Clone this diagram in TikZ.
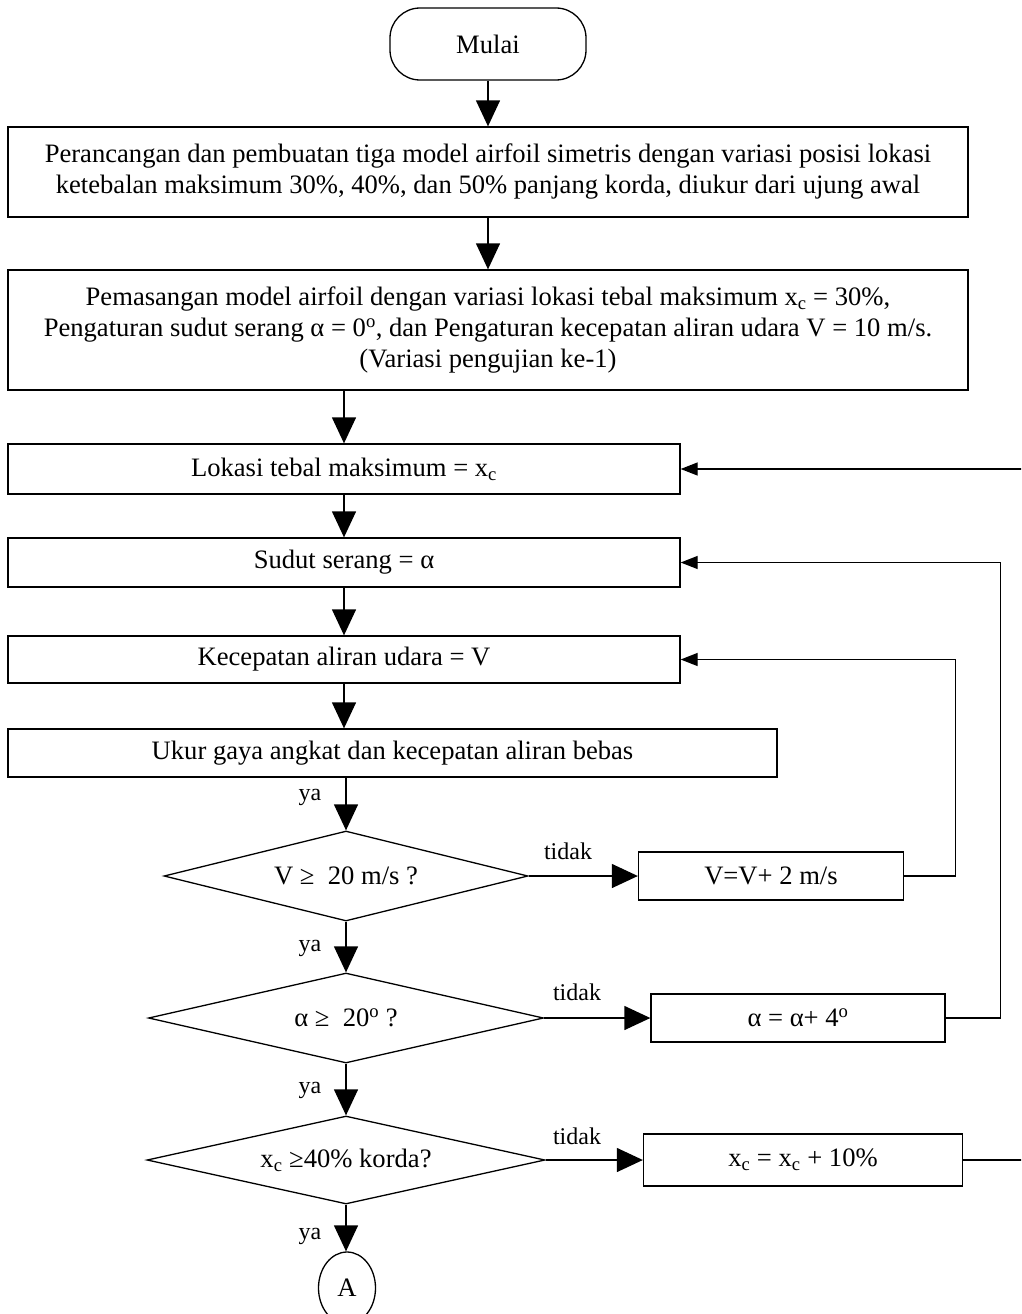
\documentclass[tikz,border=0pt]{standalone}
\usepackage{fontspec}
\setmainfont{Liberation Serif}
\usetikzlibrary{shapes.geometric,arrows.meta}
\newcommand\boxfont{\fontsize{26.6}{31}\selectfont}
\newcommand\lblfont{\fontsize{24}{28}\selectfont}
\begin{document}
\begin{tikzpicture}[x=1pt,y=-1pt,
  box/.style={draw,line width=1.3pt,inner sep=0pt,align=center,font=\boxfont},
  term/.style={box,rounded corners=30pt,minimum width=196pt,minimum height=72pt},
  dia/.style={draw,diamond,line width=1.3pt,inner sep=0pt},
  dtext/.style={inner sep=0pt,font=\boxfont},
  lbl/.style={inner sep=0pt,font=\lblfont},
  arr/.style={line width=1.3pt,-{Triangle[length=26pt,width=24pt]}},
  sarr/.style={line width=1.3pt,-{Triangle[length=17pt,width=13pt]}},
  ln/.style={line width=1.3pt}]
\useasboundingbox (0,0) rectangle (1021,1314);
\clip (0,0) rectangle (1021,1314);

\node[term] (start) at (488,44) {Mulai};
\node[box,minimum width=960pt,minimum height=90pt] (b1) at (488,172)
  {Perancangan dan pembuatan tiga model airfoil simetris dengan variasi posisi lokasi\\
   ketebalan maksimum 30\%, 40\%, dan 50\% panjang korda, diukur dari ujung awal};
\node[box,minimum width=960pt,minimum height=120pt] (b2) at (488,330)
  {Pemasangan model airfoil dengan variasi lokasi tebal maksimum x\textsubscript{c} = 30\%,\\
   Pengaturan sudut serang α = 0\textsuperscript{o}, dan Pengaturan kecepatan aliran udara V = 10 m/s.\\
   (Variasi pengujian ke-1)};
\node[box,minimum width=672pt,minimum height=50pt] (b3) at (344,469) {Lokasi tebal maksimum = x\textsubscript{c}};
\node[box,minimum width=672pt,minimum height=49pt] (b4) at (344,562.5) {Sudut serang = α};
\node[box,minimum width=672pt,minimum height=47pt] (b5) at (344,659.5) {Kecepatan aliran udara = V};
\node[box,minimum width=769pt,minimum height=48pt] (b6) at (392.5,753) {\raisebox{-4pt}{Ukur gaya angkat dan kecepatan aliran bebas}};

\node[dia,minimum width=364pt,minimum height=90pt] (d1) at (346,876) {};
\node[dtext] (d1t) at (d1) {V ≥\ \ 20 m/s ?};
\node[box,minimum width=265pt,minimum height=48pt] (b7) at (771,876) {V=V+ 2 m/s};

\node[dia,minimum width=395pt,minimum height=90pt] (d2) at (346,1018) {};
\node[dtext] (d2t) at (d2) {α ≥\ \ 20\textsuperscript{o} ?};
\node[box,minimum width=294pt,minimum height=48pt] (b8) at (798,1018) {α = α+ 4\textsuperscript{o}};

\node[dia,minimum width=398pt,minimum height=88pt] (d3) at (346,1160) {};
\node[dtext] (d3t) at (d3) {x\textsubscript{c} ≥40\% korda?};
\node[box,minimum width=319pt,minimum height=52pt] (b9) at (803,1160) {x\textsubscript{c} = x\textsubscript{c} + 10\%};

\node[draw,ellipse,line width=1.3pt,minimum width=57pt,minimum height=72pt,inner sep=0pt,font=\boxfont] (A) at (347,1288) {A};

% labels
\node[lbl] (ya1) at (310,797) {ya};
\node[lbl] (ya2) at (310,948) {ya};
\node[lbl] (ya3) at (310,1090) {ya};
\node[lbl] (ya4) at (310,1236) {ya};
\node[lbl] (t1) at (568,851) {tidak};
\node[lbl] (t2) at (577,992) {tidak};
\node[lbl] (t3) at (577,1136) {tidak};

% main flow
\draw[arr] (start.south) -- (b1.north);
\draw[arr] (b1.south) -- (b2.north);
\draw[arr] (b2.south -| b3.north) -- (b3.north);
\draw[arr] (b3.south) -- (b4.north);
\draw[arr] (b4.south) -- (b5.north);
\draw[arr] (b5.south) -- (b5.south |- b6.north);
\draw[arr] (b6.south -| d1.north) -- (d1.north);
\draw[arr] (d1.south) -- (d2.north);
\draw[arr] (d2.south) -- (d3.north);
\draw[arr] (d3.south) -- (d3.south |- A.north);

% no branches
\draw[arr] (d1.east) -- (b7.west);
\draw[arr] (d2.east) -- (b8.west);
\draw[arr] (d3.east) -- (b9.west);

% loops
\draw[sarr] (b7.east) -- ++(51,0) |- (b5.east);
\draw[sarr] (b8.east) -- ++(55,0) |- (b4.east);
\draw[sarr] (b9.east) -- ++(80,0) |- (b3.east);
\end{tikzpicture}
\end{document}
